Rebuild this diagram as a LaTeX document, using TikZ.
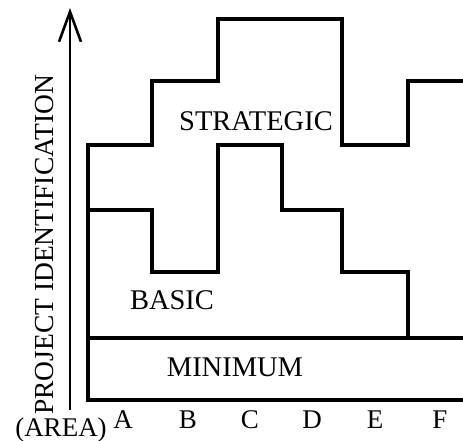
\documentclass[tikz,border=0pt]{standalone}
\usepackage{fontspec}
\setmainfont{Liberation Serif}
\usetikzlibrary{arrows.meta}
\begin{document}
\begin{tikzpicture}[x=1pt,y=-1pt,
  stepline/.style={line width=3.2pt,line join=miter,line cap=rect},
  axisline/.style={line width=2.6pt},
  lbl/.style={font=\fontsize{28.5}{28.5}\selectfont,inner sep=0pt,anchor=center},
  ylbl/.style={font=\fontsize{27.5}{27.5}\selectfont,inner sep=0pt,anchor=center},
  tick/.style={font=\fontsize{27}{27}\selectfont,inner sep=0pt,anchor=center}]
\useasboundingbox (0,0) rectangle (463,441);
% axis
\coordinate (ax0) at (70,410);
\coordinate (ax1) at (70,8);
\draw[axisline,-{Straight Barb[length=30pt,width=22pt,line width=2.6pt]}] (ax0) -- (ax1);
% strategic
\draw[stepline] (88,145) -- (152,145) -- (152,81) -- (218,81) -- (218,19) -- (342,19)
  -- (342,145) -- (408,145) -- (408,81) -- (464,81);
% basic
\draw[stepline] (88,210) -- (152,210) -- (152,272) -- (218,272) -- (218,145) -- (282,145)
  -- (282,210) -- (342,210) -- (342,272) -- (408,272) -- (408,338);
% frame
\draw[stepline] (88,145) -- (88,400) -- (464,400);
\draw[stepline] (88,338) -- (464,338);
% labels
\node[lbl] (strat) at (256,121) {STRATEGIC};
\node[lbl] (basic) at (172,300) {BASIC};
\node[lbl] (mini) at (235,367) {MINIMUM};
\node[ylbl,rotate=90] (ylab) at (45,245) {PROJECT IDENTIFICATION};
\node[tick] (area) at (61,430) {(AREA)};
\node[tick] (A) at (123,420) {A};
\node[tick] (B) at (188,420) {B};
\node[tick] (C) at (250,420) {C};
\node[tick] (D) at (312,420) {D};
\node[tick] (E) at (375,420) {E};
\node[tick] (F) at (440,420) {F};
\end{tikzpicture}
\end{document}
